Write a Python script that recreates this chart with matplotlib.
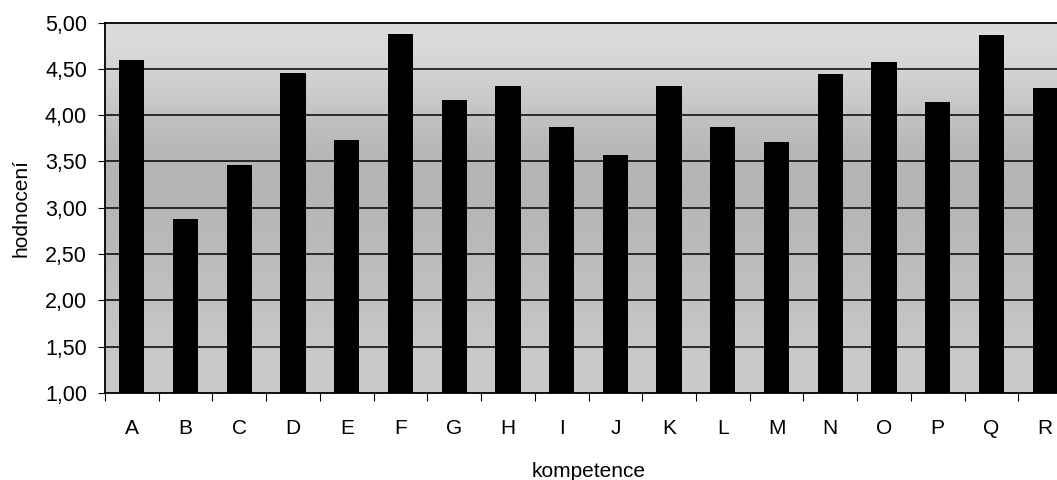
import numpy as np
import matplotlib
matplotlib.use("Agg")
import matplotlib.pyplot as plt

# ── data ──────────────────────────────────────────────
categories = list("ABCDEFGHIJKLMNOPQR")
scores = [4.60, 2.88, 3.46, 4.45, 3.73, 4.88, 4.16, 4.31, 3.87,
          3.57, 4.31, 3.87, 3.71, 4.44, 4.57, 4.14, 4.87, 4.29]
y_ticks = [1.0, 1.5, 2.0, 2.5, 3.0, 3.5, 4.0, 4.5, 5.0]

# ── style ─────────────────────────────────────────────
plt.rcParams["font.family"] = ["Liberation Sans", "DejaVu Sans"]
BAR = "#000000"
# grey tones of the printed plot-area background, top → bottom
BG_TONES = [0.86, 0.80, 0.72, 0.70, 0.72, 0.74, 0.77, 0.79]

fig = plt.figure(figsize=(10.57, 4.8), dpi=100)
# plot area runs past the right edge of the picture, as in the scan
ax = fig.add_axes([105 / 1057, 1 - 393 / 480, 967 / 1057, 370.5 / 480])

x = np.arange(len(categories))
ax.set_xlim(-0.5, len(categories) - 0.5)
ax.set_ylim(1.0, 5.0)

bg = np.array(BG_TONES)[:, None] * np.ones((1, 2))
ax.imshow(bg, cmap="gray", vmin=0, vmax=1, aspect="auto",
          extent=[-0.5, len(categories) - 0.5, 1.0, 5.0],
          interpolation="bicubic", zorder=0)

for v in y_ticks[1:-1]:
    ax.axhline(v, color="black", linewidth=1.1, zorder=1)

ax.bar(x, np.array(scores) - 1.0, bottom=1.0, width=0.47,
       color=BAR, zorder=2)

ax.set_yticks(y_ticks)
ax.set_yticklabels([f"{v:.2f}".replace(".", ",") for v in y_ticks],
                   fontsize=15.5)
ax.tick_params(axis="y", length=5, width=0.8, pad=8)

ax.set_xticks(x)
ax.set_xticklabels(categories, fontsize=15)
ax.set_xticks(np.arange(-0.5, len(categories)), minor=True)
ax.tick_params(axis="x", which="major", length=0, pad=19)
ax.tick_params(axis="x", which="minor", length=6, width=0.8,
               direction="out")

for s in ax.spines.values():
    s.set_color("black")
    s.set_linewidth(1.3)

ax.set_ylabel("hodnocení", fontsize=15, labelpad=10)
ax.set_xlabel("kompetence", fontsize=15, labelpad=17)

fig.savefig("out.png", dpi=100)
